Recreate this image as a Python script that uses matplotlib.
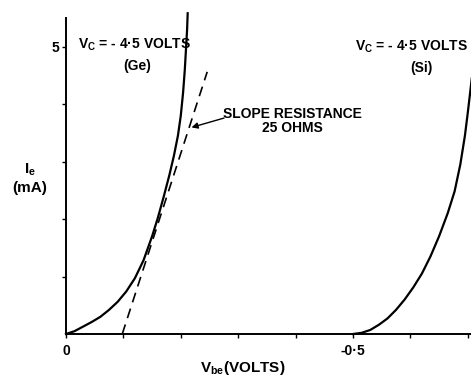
import matplotlib
matplotlib.use("Agg")
import numpy as np
import matplotlib.pyplot as plt

plt.rcParams['font.family'] = ['Liberation Sans', 'DejaVu Sans']

# Ge curve (|Vbe| in volts, Ie in mA)
vbe_ge = [0, 0.015, 0.030, 0.045, 0.060, 0.075, 0.090, 0.105, 0.120, 0.135, 0.150,
          0.160, 0.170, 0.180, 0.188, 0.195, 0.200, 0.204, 0.207, 0.209, 0.211, 0.212]
ie_ge = [0, 0.05, 0.13, 0.21, 0.30, 0.42, 0.56, 0.74, 0.97, 1.28, 1.70,
         2.02, 2.38, 2.76, 3.10, 3.45, 3.80, 4.20, 4.60, 4.95, 5.30, 5.58]

# Si curve
vbe_si = [0.500, 0.515, 0.530, 0.545, 0.560, 0.575, 0.590, 0.605, 0.620, 0.635,
          0.650, 0.665, 0.677, 0.687, 0.695, 0.700, 0.704, 0.707]
ie_si = [0.00, 0.02, 0.07, 0.16, 0.27, 0.42, 0.60, 0.81, 1.05, 1.35,
         1.70, 2.10, 2.48, 2.95, 3.45, 3.85, 4.19, 4.45]

# slope resistance line (25 ohms)
vbe_slope = [0.098, 0.246]
ie_slope = [0, 4.56]

xtick_pos = [0, 0.1, 0.2, 0.3, 0.4, 0.5, 0.6, 0.7]
xtick_lab = ['0', '', '', '', '', '-0·5', '', '']
ytick_pos = [1, 2, 3, 4, 5]
ytick_lab = ['', '', '', '', '5']

fig = plt.figure(figsize=(4.71, 3.80), dpi=100)
ax = fig.add_axes([66 / 471, 46 / 380, 405 / 471, 334 / 380])

ax.plot(vbe_ge, ie_ge, color='black', lw=1.6, clip_on=False)
ax.plot(vbe_si, ie_si, color='black', lw=1.6, clip_on=False)
ax.plot(vbe_slope, ie_slope, color='black', lw=1.2, dashes=(6, 4))

ax.set_xlim(0, 0.7056)
ax.set_ylim(0, 5.81)
for s in ['top', 'right']:
    ax.spines[s].set_visible(False)
ax.spines['left'].set_bounds(0, 5.5)
ax.spines['left'].set_linewidth(1.4)
ax.spines['bottom'].set_linewidth(1.4)

fs = 10
ax.set_xticks(xtick_pos)
ax.set_xticklabels(xtick_lab, fontsize=fs, fontweight='bold')
ax.set_yticks(ytick_pos)
ax.set_yticklabels(ytick_lab, fontsize=fs, fontweight='bold')
ax.tick_params(axis='x', length=3, width=1, pad=4)
ax.tick_params(axis='y', length=3, width=1, pad=2)

txt = dict(fontsize=fs, fontweight='bold', color='black')
ax.text(0.021, 5.03, r'$\mathregular{V_C}$ = - 4·5 VOLTS', ha='left', va='center', **txt)
ax.text(0.124, 4.66, '(Ge)', ha='center', va='center', **txt)
ax.text(0.503, 4.99, r'$\mathregular{V_C}$ = - 4·5 VOLTS', ha='left', va='center', **txt)
ax.text(0.620, 4.63, '(Si)', ha='center', va='center', **txt)
ax.text(0.395, 3.71, 'SLOPE RESISTANCE\n25 OHMS', ha='center', va='center',
        linespacing=1.0, **txt)
ax.annotate('', xy=(0.214, 3.58), xytext=(0.280, 3.77),
            arrowprops=dict(arrowstyle='-|>', color='black', lw=1.0,
                            mutation_scale=9))

lab = dict(txt, fontsize=11)
ax.text(-0.063, 2.71, r'$\mathregular{I_e}$' + '\n(mA)', ha='center', va='center',
        linespacing=1.25, clip_on=False, **lab)
ax.text(0.308, -0.6, r'$\mathregular{V_{be}}$(VOLTS)', ha='center', va='center',
        clip_on=False, **lab)

fig.savefig('out.png', dpi=100)
